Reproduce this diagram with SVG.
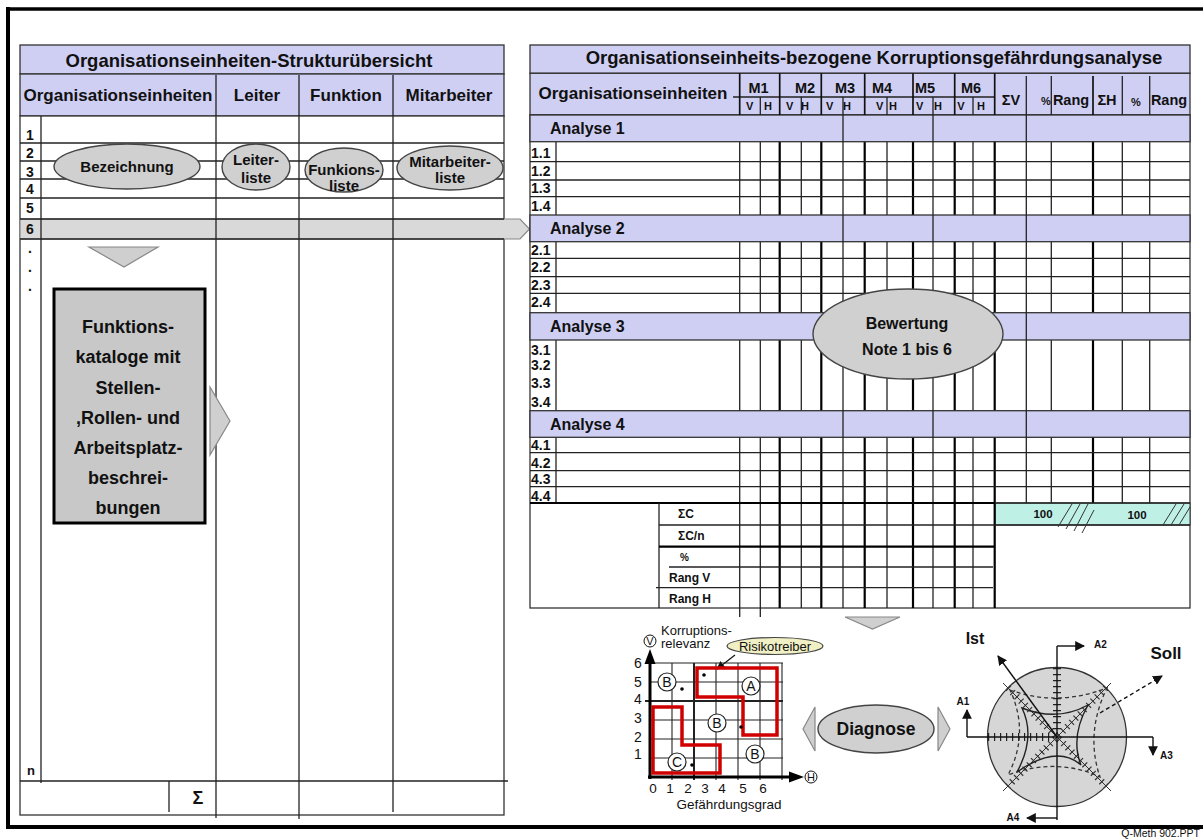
<svg xmlns="http://www.w3.org/2000/svg" width="1203" height="839" viewBox="0 0 1203 839">
<defs>
<style>
.ln{stroke:#222;stroke-width:1.3;fill:none}
.tk{stroke:#000;stroke-width:2.2;fill:none}
.lav{fill:#cfcff4;stroke:#333;stroke-width:1.3}
.gr{fill:#d0d0d0;stroke:#444;stroke-width:1.4}
.tri{fill:#cfcfcf;stroke:#888;stroke-width:1.2}
.t{font-family:"Liberation Sans",Arial,sans-serif;fill:#111}
.b{font-weight:bold}
.m{text-anchor:middle}
.red{fill:none;stroke:#d00000;stroke-width:3.5}
.cl{fill:#fff;stroke:#222;stroke-width:1.2}
.tick{stroke:#222;stroke-width:8;stroke-dasharray:1.2 4.8;fill:none}
.dtick{stroke:#333;stroke-width:7;stroke-dasharray:1.2 4.8;fill:none}
.hatch{stroke:#333;stroke-width:1}
</style>
<marker id="ah" viewBox="0 0 10 10" refX="9" refY="5" markerWidth="7" markerHeight="7" orient="auto-start-reverse">
<path d="M0,0 L10,5 L0,10 z" fill="#111"/>
</marker>
</defs>
<rect x="0" y="0" width="1203" height="839" fill="#fff"/>
<g id="frame">
<line x1="8" y1="9" x2="1203" y2="9" stroke="#000" stroke-width="3.5"/>
<line x1="8" y1="7" x2="8" y2="829" stroke="#000" stroke-width="4"/>
<line x1="6" y1="827" x2="1203" y2="827" stroke="#000" stroke-width="4"/>
<text class="t" x="1200" y="837" font-size="10.5" text-anchor="end" fill="#555">Q-Meth 902.PPT</text>
</g>

<g id="left-table">
<rect x="20" y="45" width="484" height="29" class="lav"/>
<rect x="20" y="74" width="484" height="42" class="lav"/>
<rect x="20" y="116" width="484" height="699" fill="#fff" stroke="#333" stroke-width="1.3"/>
<polygon points="20,219 520,219 529.5,229 520,239 20,239" fill="#d9d9d9" stroke="#888" stroke-width="1.2"/>
<g class="ln">
<line x1="20" y1="143" x2="504" y2="143"/>
<line x1="20" y1="161" x2="504" y2="161"/>
<line x1="20" y1="179" x2="504" y2="179"/>
<line x1="20" y1="198" x2="504" y2="198"/>
<line x1="20" y1="219" x2="504" y2="219"/>
<line x1="20" y1="239" x2="504" y2="239"/>
<line x1="20" y1="781" x2="508" y2="781"/>
<line x1="41" y1="116" x2="41" y2="783"/>
<line x1="216" y1="75" x2="216" y2="818"/>
<line x1="299" y1="75" x2="299" y2="819"/>
<line x1="393" y1="75" x2="393" y2="812"/>
<line x1="169" y1="781" x2="169" y2="812"/>
</g>
<text class="t b m" x="249" y="67" font-size="18.5">Organisationseinheiten-Strukturübersicht</text>
<text class="t b m" x="118" y="101" font-size="17">Organisationseinheiten</text>
<text class="t b m" x="257" y="101" font-size="17">Leiter</text>
<text class="t b m" x="346" y="101" font-size="17">Funktion</text>
<text class="t b m" x="449" y="101" font-size="17">Mitarbeiter</text>
<g class="t b" font-size="14">
<text x="26" y="140">1</text>
<text x="26" y="158">2</text>
<text x="26" y="177">3</text>
<text x="26" y="194">4</text>
<text x="26" y="213">5</text>
<text x="26" y="234">6</text>
<text x="28" y="253">.</text>
<text x="28" y="272">.</text>
<text x="28" y="291">.</text>
<text x="27" y="775" font-size="13">n</text>
</g>
<text class="t b m" x="198" y="804" font-size="18">Σ</text>
</g>

<g id="node-bezeichnung">
<ellipse cx="127" cy="166.5" rx="73" ry="22.5" class="gr"/>
<text class="t b m" x="127" y="172" font-size="15">Bezeichnung</text>
</g>
<g id="node-leiterliste">
<ellipse cx="256" cy="167" rx="34" ry="23" class="gr"/>
<text class="t b m" x="256" y="165" font-size="15">Leiter-</text>
<text class="t b m" x="256" y="183" font-size="15">liste</text>
</g>
<g id="node-funktionsliste">
<ellipse cx="344" cy="170" rx="39" ry="22" class="gr"/>
<text class="t b m" x="344" y="175" font-size="15">Funkions-</text>
<text class="t b m" x="344" y="191" font-size="15">liste</text>
</g>
<g id="node-mitarbeiterliste">
<ellipse cx="450" cy="168" rx="53" ry="22" class="gr"/>
<text class="t b m" x="450" y="167" font-size="15">Mitarbeiter-</text>
<text class="t b m" x="450" y="183" font-size="15">liste</text>
</g>

<g id="node-funktionskataloge">
<rect x="54" y="289" width="151" height="234" fill="#c8c8c8" stroke="#000" stroke-width="3"/>
<g class="t b m" font-size="18">
<text x="128" y="333">Funktions-</text>
<text x="128" y="363">kataloge mit</text>
<text x="128" y="394">Stellen-</text>
<text x="128" y="424">,Rollen- und</text>
<text x="128" y="454">Arbeitsplatz-</text>
<text x="128" y="484">beschrei-</text>
<text x="128" y="514">bungen</text>
</g>
</g>

<g id="right-table">
<rect x="530" y="45" width="660" height="28.3" class="lav"/>
<rect x="530" y="73.3" width="660" height="41.7" class="lav"/>
<rect x="530" y="115" width="660" height="493" fill="#fff" stroke="#333" stroke-width="1.3"/>
<rect x="994.7" y="503" width="195.3" height="22" fill="#bff0e6" stroke="#333" stroke-width="1"/>
<g class="ln">
<line x1="556" y1="141.7" x2="556" y2="503"/>
<line x1="739.7" y1="115" x2="739.7" y2="617"/>
<line x1="760.3" y1="115" x2="760.3" y2="617"/>
<line x1="801.3" y1="115" x2="801.3" y2="608"/>
<line x1="887" y1="115" x2="887" y2="608"/>
<line x1="973" y1="115" x2="973" y2="608"/>
<line x1="1051.3" y1="115" x2="1051.3" y2="503"/>
<line x1="1122.3" y1="115" x2="1122.3" y2="503"/>
<line x1="1149.7" y1="115" x2="1149.7" y2="503"/>
</g>
<g class="tk">
<line x1="779.7" y1="115" x2="779.7" y2="608"/>
<line x1="821.3" y1="115" x2="821.3" y2="608"/>
<line x1="864.7" y1="115" x2="864.7" y2="608"/>
<line x1="913" y1="115" x2="913" y2="608"/>
<line x1="954.7" y1="115" x2="954.7" y2="608"/>
<line x1="994.7" y1="115" x2="994.7" y2="608"/>
<line x1="1093" y1="115" x2="1093" y2="503"/>
</g>
<g class="ln">
<line x1="530" y1="161.7" x2="1190" y2="161.7"/>
<line x1="530" y1="180" x2="1190" y2="180"/>
<line x1="530" y1="196.7" x2="1190" y2="196.7"/>
<line x1="530" y1="258.3" x2="1190" y2="258.3"/>
<line x1="530" y1="276.7" x2="1190" y2="276.7"/>
<line x1="530" y1="293.3" x2="1190" y2="293.3"/>
<line x1="530" y1="452.7" x2="1190" y2="452.7"/>
<line x1="530" y1="470.7" x2="1190" y2="470.7"/>
<line x1="530" y1="486.7" x2="1190" y2="486.7"/>
</g>
<rect x="530" y="115" width="660" height="26.7" class="lav"/>
<rect x="530" y="215" width="660" height="26.7" class="lav"/>
<rect x="530" y="312.7" width="660" height="27.3" class="lav"/>
<rect x="530" y="410.7" width="660" height="26.6" class="lav"/>
<g class="ln">
<line x1="843" y1="97" x2="843" y2="608"/>
<line x1="933" y1="97" x2="933" y2="608"/>
<line x1="1026.3" y1="76" x2="1026.3" y2="503"/>
</g>
<g class="ln">
<line x1="733" y1="97" x2="994.7" y2="97"/>
<line x1="760.3" y1="97" x2="760.3" y2="115"/>
<line x1="801.3" y1="97" x2="801.3" y2="115"/>
<line x1="887" y1="97" x2="887" y2="115"/>
<line x1="973" y1="97" x2="973" y2="115"/>
<line x1="1051.3" y1="76" x2="1051.3" y2="115"/>
<line x1="1122.3" y1="76" x2="1122.3" y2="115"/>
<line x1="1149.7" y1="76" x2="1149.7" y2="115"/>
</g>
<g stroke="#111" stroke-width="1.7">
<line x1="739.7" y1="73.3" x2="739.7" y2="115"/>
<line x1="779.7" y1="73.3" x2="779.7" y2="115"/>
<line x1="821.3" y1="73.3" x2="821.3" y2="115"/>
<line x1="864.7" y1="73.3" x2="864.7" y2="115"/>
<line x1="913" y1="73.3" x2="913" y2="115"/>
<line x1="954.7" y1="73.3" x2="954.7" y2="115"/>
<line x1="994.7" y1="73.3" x2="994.7" y2="115"/>
<line x1="1093" y1="76" x2="1093" y2="115"/>
</g>
<line x1="530" y1="503" x2="994.7" y2="503" stroke="#000" stroke-width="2.2"/>
<line x1="994.7" y1="503" x2="1190" y2="503" class="ln"/>
<line x1="659" y1="503" x2="659" y2="608" class="ln"/>
<line x1="659" y1="525" x2="1190" y2="525" class="ln"/>
<line x1="659" y1="546.7" x2="994.7" y2="546.7" stroke="#000" stroke-width="2.2"/>
<line x1="669" y1="567" x2="993" y2="567" class="ln"/>
<line x1="656" y1="587.7" x2="993" y2="587.7" class="ln"/>
<g class="hatch">
<line x1="1058" y1="527" x2="1072" y2="504"/>
<line x1="1066" y1="529" x2="1080" y2="504"/>
<line x1="1074" y1="531" x2="1088" y2="504"/>
<line x1="1082" y1="533" x2="1094" y2="510"/>
<line x1="1163" y1="525" x2="1176" y2="504"/>
<line x1="1171" y1="525" x2="1184" y2="504"/>
<line x1="1179" y1="525" x2="1190" y2="507"/>
</g>
<text class="t b m" x="874" y="64" font-size="18.5">Organisationseinheits-bezogene Korruptionsgefährdungsanalyse</text>
<text class="t b m" x="633" y="99" font-size="17">Organisationseinheiten</text>
<g class="t b m" font-size="14.5">
<text x="758.5" y="93">M1</text>
<text x="805" y="93">M2</text>
<text x="845" y="93">M3</text>
<text x="882" y="93">M4</text>
<text x="925" y="93">M5</text>
<text x="971" y="93">M6</text>
<text x="1011" y="105">ΣV</text>
<text x="1071" y="105">Rang</text>
<text x="1107" y="105">ΣH</text>
<text x="1169" y="105">Rang</text>
</g>
<g class="t b m" font-size="11">
<text x="1046" y="105">%</text>
<text x="1136" y="106">%</text>
<text x="749.7" y="110">V</text><text x="768" y="110">H</text>
<text x="789.7" y="110">V</text><text x="805" y="110">H</text>
<text x="829.7" y="110">V</text><text x="847" y="110">H</text>
<text x="879.7" y="110">V</text><text x="893" y="110">H</text>
<text x="919.7" y="110">V</text><text x="938" y="110">H</text>
<text x="961" y="110">V</text><text x="981" y="110">H</text>
</g>
<g class="t b" font-size="16">
<text x="550" y="134">Analyse  1</text>
<text x="550" y="234">Analyse  2</text>
<text x="550" y="332">Analyse  3</text>
<text x="550" y="430">Analyse  4</text>
</g>
<g class="t b" font-size="14">
<text x="531" y="158">1.1</text>
<text x="531" y="176">1.2</text>
<text x="531" y="193">1.3</text>
<text x="531" y="211">1.4</text>
<text x="531" y="255">2.1</text>
<text x="531" y="272">2.2</text>
<text x="531" y="290">2.3</text>
<text x="531" y="307">2.4</text>
<text x="531" y="355">3.1</text>
<text x="531" y="370">3.2</text>
<text x="531" y="388">3.3</text>
<text x="531" y="407">3.4</text>
<text x="531" y="450">4.1</text>
<text x="531" y="468">4.2</text>
<text x="531" y="484">4.3</text>
<text x="531" y="501">4.4</text>
</g>
<g class="t b" font-size="12">
<text x="678" y="518">ΣC</text>
<text x="678" y="540">ΣC/n</text>
<text x="680" y="561" font-size="10">%</text>
<text x="669" y="582">Rang V</text>
<text x="669" y="603">Rang H</text>
<text x="1043" y="518" class="m" font-size="11.5">100</text>
<text x="1137" y="519" class="m" font-size="11.5">100</text>
</g>
</g>

<g id="node-bewertung">
<ellipse cx="908" cy="334" rx="95" ry="45" class="gr"/>
<text class="t b m" x="907" y="329" font-size="16">Bewertung</text>
<text class="t b m" x="907" y="355" font-size="16">Note 1 bis 6</text>
</g>

<g id="connectors">
<polygon points="89,247 158,247 124,267" class="tri"/>
<polygon points="210,387 230,421 210,455" class="tri"/>
<polygon points="845,617 900,617 872.5,629" class="tri"/>
<polygon points="815,707 803,729 815,751" class="tri"/>
<polygon points="938,707 950,729 938,751" class="tri"/>
<line x1="735" y1="655" x2="717" y2="669" stroke="#111" stroke-width="1.2" marker-end="url(#ah)"/>
</g>

<g id="node-diagnose">
<ellipse cx="876" cy="729" rx="58" ry="24" class="gr"/>
<text class="t b m" x="876" y="735" font-size="17.5">Diagnose</text>
</g>

<g id="matrix">
<g stroke="#222" stroke-width="1.1">
<line x1="650" y1="663" x2="783" y2="663"/>
<line x1="650" y1="682" x2="783" y2="682"/>
<line x1="645" y1="701" x2="783" y2="701" stroke-width="2"/>
<line x1="650" y1="720" x2="783" y2="720"/>
<line x1="650" y1="739" x2="783" y2="739"/>
<line x1="650" y1="758" x2="783" y2="758"/>
<line x1="672" y1="663" x2="672" y2="780"/>
<line x1="694" y1="663" x2="694" y2="780" stroke-width="2"/>
<line x1="716" y1="663" x2="716" y2="780"/>
<line x1="738" y1="663" x2="738" y2="780"/>
<line x1="760" y1="663" x2="760" y2="780"/>
<line x1="782" y1="663" x2="782" y2="780"/>
</g>
<line x1="650" y1="779" x2="650" y2="662" stroke="#000" stroke-width="3"/>
<polygon points="650,649 644.5,664 655.5,664" fill="#000"/>
<line x1="648" y1="777" x2="790" y2="777" stroke="#000" stroke-width="3"/>
<polygon points="804,777 789,771.5 789,782.5" fill="#000"/>
<circle cx="650" cy="641" r="6" fill="#fff" stroke="#111" stroke-width="1"/>
<text class="t m" x="650" y="645" font-size="11">V</text>
<circle cx="811" cy="777" r="6" fill="#fff" stroke="#111" stroke-width="1"/>
<text class="t m" x="811" y="781" font-size="11">H</text>
<polygon points="697,668 777,668 777,735 743,735 743,697 697,697" class="red"/>
<polygon points="653,707 682,707 682,745 720,745 720,773 653,773" class="red"/>
<g>
<circle cx="667" cy="682" r="9" class="cl"/><text class="t m" x="667" y="687" font-size="14">B</text>
<circle cx="751" cy="686" r="9" class="cl"/><text class="t m" x="751" y="691" font-size="14">A</text>
<circle cx="717" cy="723" r="9" class="cl"/><text class="t m" x="717" y="728" font-size="14">B</text>
<circle cx="755" cy="754" r="9" class="cl"/><text class="t m" x="755" y="759" font-size="14">B</text>
<circle cx="677" cy="762" r="9" class="cl"/><text class="t m" x="677" y="767" font-size="14">C</text>
</g>
<g fill="#000">
<circle cx="682" cy="689" r="1.8"/>
<circle cx="704" cy="675" r="1.8"/>
<circle cx="741" cy="727" r="1.8"/>
<circle cx="692" cy="765" r="1.8"/>
</g>
<g class="t m" font-size="14">
<text x="638" y="668">6</text>
<text x="638" y="687">5</text>
<text x="638" y="704">4</text>
<text x="638" y="723">3</text>
<text x="638" y="742">2</text>
<text x="638" y="759">1</text>
</g>
<g class="t m" font-size="13.5">
<text x="653" y="793">0</text>
<text x="670" y="793">1</text>
<text x="688" y="793">2</text>
<text x="705" y="793">3</text>
<text x="722" y="793">4</text>
<text x="743" y="793">5</text>
<text x="763" y="793">6</text>
<text x="729" y="809">Gefährdungsgrad</text>
</g>
<text class="t" x="661" y="635" font-size="13">Korruptions-</text>
<text class="t" x="661" y="648" font-size="13">relevanz</text>
</g>
<g id="node-risikotreiber">
<ellipse cx="775" cy="646" rx="48" ry="8.5" fill="#f0f0c4" stroke="#444" stroke-width="1.2"/>
<text class="t m" x="775" y="651" font-size="13">Risikotreiber</text>
</g>

<g id="radar">
<circle cx="1057" cy="737" r="69.5" fill="#d6d6d6" stroke="#333" stroke-width="1.3"/>
<line x1="1003" y1="683" x2="1111" y2="791" stroke="#333" stroke-width="1"/>
<line x1="1111" y1="683" x2="1003" y2="791" stroke="#333" stroke-width="1"/>
<line x1="1008" y1="688" x2="1106" y2="786" class="dtick"/>
<line x1="1106" y1="688" x2="1008" y2="786" class="dtick"/>
<line x1="1057" y1="668" x2="1057" y2="732" class="tick"/>
<line x1="988" y1="737" x2="1050" y2="737" class="tick"/>
<path d="M1010,690 Q1057,707 1107,688 Q1085,733 1100,777 Q1057,757 1008,775 Q1030,733 1010,690 Z" fill="none" stroke="#333" stroke-width="1.3" stroke-dasharray="4 3"/>
<path d="M1022,708 Q1057,722 1088,705 Q1070,737 1081,765 Q1057,744 1017,772 Q1036,737 1022,708 Z" fill="none" stroke="#222" stroke-width="1.4"/>
<g stroke="#111" stroke-width="1.4" fill="none">
<line x1="1057" y1="646" x2="1057" y2="820"/>
<line x1="967" y1="737" x2="1153" y2="737"/>
<line x1="1057" y1="646" x2="1084" y2="646" marker-end="url(#ah)"/>
<line x1="1057" y1="818" x2="1027" y2="818" marker-end="url(#ah)"/>
<line x1="967" y1="737" x2="967" y2="710" marker-end="url(#ah)"/>
<line x1="1153" y1="737" x2="1153" y2="755" marker-end="url(#ah)"/>
<line x1="1057" y1="737" x2="998" y2="656" marker-end="url(#ah)"/>
<line x1="1100" y1="713" x2="1162" y2="676" stroke-dasharray="4 3" marker-end="url(#ah)"/>
</g>
<g class="t b" font-size="10">
<text x="1094" y="648">A2</text>
<text x="1013" y="821" class="m">A4</text>
<text x="963" y="705" class="m">A1</text>
<text x="1160" y="759">A3</text>
</g>
<text class="t b m" x="975" y="644" font-size="16">Ist</text>
<text class="t b m" x="1166" y="659" font-size="17">Soll</text>
</g>
</svg>
